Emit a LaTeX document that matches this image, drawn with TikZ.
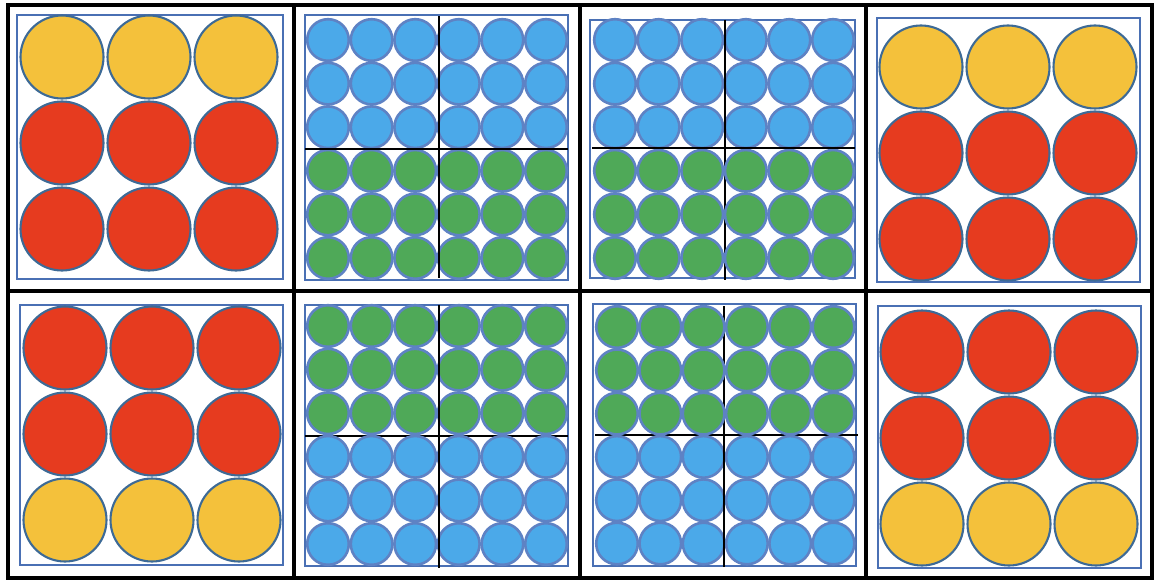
\documentclass[tikz,border=0pt]{standalone}
\definecolor{cyel}{HTML}{F4C13B}
\definecolor{cred}{HTML}{E63B1F}
\definecolor{cblue}{HTML}{4BA9E9}
\definecolor{cgreen}{HTML}{4FA958}
\definecolor{cedge}{HTML}{3D6A96}
\definecolor{sedge}{HTML}{5E82C4}
\definecolor{sqedge}{HTML}{4A70B4}
\newcommand\bigpanel[9]{%
  \draw[frame] (#1,#2) rectangle (#3,#4);
  \foreach \i in {0,1,2}{
    \foreach \j/\c in {0/#7,1/#8,2/#9}{
      \filldraw[bigdot,fill=\c] (#5+\i*87,#6+\j*86) circle[radius=41.5];
    }
  }
}
\newcommand\smallrows[6]{%
  \foreach \i in {0,...,5}{
    \foreach \j in {#5,...,#6}{
      \filldraw[smalldot,fill=#4] (#1+\i*#3,#2+\j*#3) circle[radius=20.8];
    }
  }
}
\begin{document}
\begin{tikzpicture}[x=1pt,y=-1pt,
  bigdot/.style={draw=cedge,line width=2.1pt},
  smalldot/.style={draw=sedge,line width=2.6pt},
  frame/.style={draw=sqedge,line width=2.6pt},
  gridline/.style={draw=black,line width=3.2pt},
  crossline/.style={draw=black,line width=2.8pt}]
\useasboundingbox (0,0) rectangle (1158,583);
\fill[white] (0,0) rectangle (1158,583);

% big circle panels
\bigpanel{17}{15}{283}{279}{62}{57}{cyel}{cred}{cred}
\bigpanel{877}{18}{1140}{282}{921}{67}{cyel}{cred}{cred}
\bigpanel{20}{305}{283}{565}{65}{348}{cred}{cred}{cyel}
\bigpanel{878}{306}{1141}{568}{922}{352}{cred}{cred}{cyel}

% panel 2 (top, blue over green), both lines on top
\draw[frame] (305,15) rectangle (568,280);
\smallrows{328}{40}{43.6}{cblue}{0}{2}
\smallrows{328}{40}{43.6}{cgreen}{3}{5}
\draw[crossline] (439,16) -- (439,278);
\draw[crossline] (305,149) -- (568,149);

% panel 3 (top, blue over green), lower vertical behind
\draw[frame] (590,20) rectangle (855,278);
\draw[crossline] (725,148) -- (725,280);
\smallrows{615}{40}{43.6}{cblue}{0}{2}
\smallrows{615}{40}{43.6}{cgreen}{3}{5}
\draw[crossline] (725,20) -- (725,148);
\draw[crossline] (592,148) -- (855,148);

% panel 6 (bottom, green over blue), horizontal behind
\draw[frame] (305,305) rectangle (568,566);
\draw[crossline] (305,436) -- (568,436);
\smallrows{328}{326}{43.6}{cgreen}{0}{2}
\smallrows{328}{326}{43.6}{cblue}{3}{5}
\draw[crossline] (439,305) -- (439,568);

% panel 7 (bottom, green over blue), horizontal and upper vertical behind
\draw[frame] (593,304) rectangle (856,566);
\draw[crossline] (595,435) -- (858,435);
\draw[crossline] (724,306) -- (724,435);
\smallrows{617}{327}{43.3}{cgreen}{0}{2}
\smallrows{617}{327}{43.3}{cblue}{3}{5}
\draw[crossline] (724,435) -- (724,567);

% outer grid
\draw[gridline] (8,5) rectangle (1152,578);
\draw[gridline] (8,291) -- (1152,291);
\draw[gridline] (294,5) -- (294,578);
\draw[gridline] (580,5) -- (580,578);
\draw[gridline] (866,5) -- (866,578);
\end{tikzpicture}
\end{document}
